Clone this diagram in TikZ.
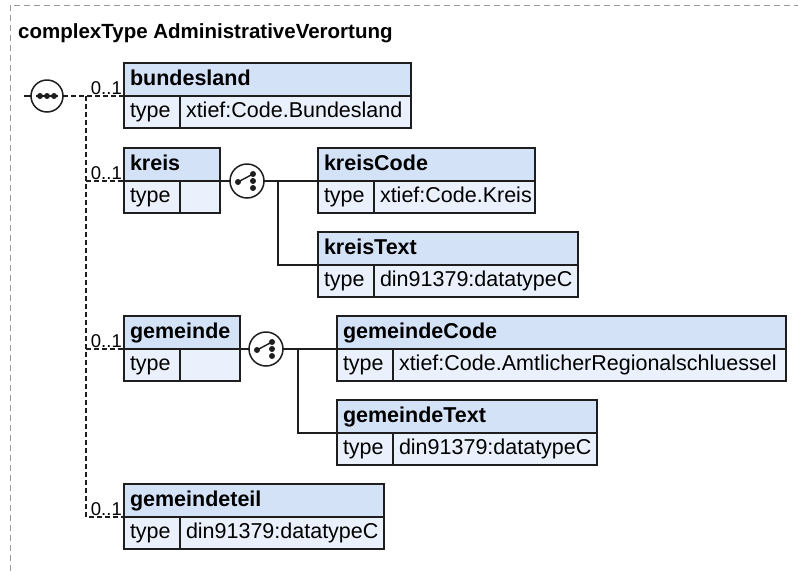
\documentclass[tikz,border=0pt]{standalone}
\usepackage{fontspec}
\setmainfont{Liberation Sans}
\usepackage{tikz}
\usetikzlibrary{positioning}
\usepackage{xcolor}
\definecolor{xsdhead}{HTML}{D4E2F8}
\definecolor{xsdrow}{HTML}{EAF1FC}
\definecolor{xsdline}{HTML}{1E1E1E}
\definecolor{xsdframe}{HTML}{9A9A9A}

\begin{document}
\begin{tikzpicture}[
    x=1pt, y=-1pt,
    hdr/.style={rectangle, draw=xsdline, fill=xsdhead, line width=1.5pt,
                outer sep=0pt, inner xsep=6pt, inner ysep=0pt,
                minimum height=33pt, text width=#1, align=left,
                text height=15pt, text depth=4pt, anchor=north west,
                font=\fontsize{21.5}{24}\selectfont\bfseries},
    cell/.style={rectangle, draw=xsdline, fill=xsdrow, line width=1.5pt,
                outer sep=0pt, inner xsep=6pt, inner ysep=0pt,
                minimum height=32pt, text width=#1, align=left,
                text height=15pt, text depth=4pt, anchor=north west,
                font=\fontsize{21.5}{24}\selectfont},
    cell/.default=44pt,
    occ/.style={inner sep=1pt, font=\fontsize{18.5}{20}\selectfont},
    conn/.style={line width=1.5pt, draw=xsdline},
    seqline/.style={conn, dash pattern=on 5pt off 3pt},
    frame/.style={line width=1pt, draw=xsdframe, dash pattern=on 6pt off 4pt},
    seqsym/.style={circle, draw=xsdline, fill=white, line width=1.5pt,
                minimum size=32pt, inner sep=0pt, outer sep=0pt,
                path picture={
                  \draw[line width=1.3pt, xsdline]
                    ([xshift=-11pt]path picture bounding box.center) --
                    ([xshift=11pt]path picture bounding box.center);
                  \foreach \dx in {-7,0,7}
                    \fill[xsdline] ([xshift=\dx pt]path picture bounding box.center) circle (3pt);
                }},
    choicesym/.style={circle, draw=xsdline, fill=white, line width=1.5pt,
                minimum size=34pt, inner sep=0pt, outer sep=0pt,
                path picture={
                  \draw[line width=1.4pt, xsdline]
                    ([xshift=-9pt, yshift=-1pt]path picture bounding box.center) --
                    ([xshift=6pt, yshift=7pt]path picture bounding box.center);
                  \fill[xsdline] ([xshift=-9pt, yshift=-1pt]path picture bounding box.center) circle (3pt);
                  \foreach \dy in {7,0,-7}
                    \fill[xsdline] ([xshift=6pt, yshift=\dy pt]path picture bounding box.center) circle (3pt);
                }}
]
\useasboundingbox (0,0) rectangle (798,571);

% outer frame and title
\draw[frame] (10,571) -- (10,5) -- (798,5);
\node[anchor=base west, inner sep=0pt, font=\fontsize{20.5}{24}\selectfont\bfseries]
    (title) at (18,38) {complexType AdministrativeVerortung};

% sequence
\coordinate (seqin) at (24,96);
\node[seqsym] (seq) at (47,96) {};
\coordinate (seqfork) at (86,96);

% elements
\node[hdr=275pt] (bund) at (124,63) {bundesland};
\node[cell, below right=0pt and 0pt of bund.south west] (bund-t) {type};
\node[cell=219pt, right=0pt of bund-t] (bund-v) {xtief:Code.Bundesland};

\node[hdr=84pt] (kreis) at (124,148) {kreis};
\node[cell, below right=0pt and 0pt of kreis.south west] (kreis-t) {type};
\node[cell=28pt, right=0pt of kreis-t] (kreis-v) {};

\node[hdr=104pt] (gem) at (124,316) {gemeinde};
\node[cell, below right=0pt and 0pt of gem.south west] (gem-t) {type};
\node[cell=48pt, right=0pt of gem-t] (gem-v) {};

\node[hdr=248pt] (teil) at (124,484) {gemeindeteil};
\node[cell, below right=0pt and 0pt of teil.south west] (teil-t) {type};
\node[cell=192pt, right=0pt of teil-t] (teil-v) {din91379:datatypeC};

% choice of kreis
\node[choicesym] (kch) at (247,181) {};
\coordinate (kfork) at (278,181);
\node[hdr=205pt] (kcode) at (318,148) {kreisCode};
\node[cell, below right=0pt and 0pt of kcode.south west] (kcode-t) {type};
\node[cell=149pt, right=0pt of kcode-t] (kcode-v) {xtief:Code.Kreis};
\node[hdr=248pt] (ktext) at (318,232) {kreisText};
\node[cell, below right=0pt and 0pt of ktext.south west] (ktext-t) {type};
\node[cell=192pt, right=0pt of ktext-t] (ktext-v) {din91379:datatypeC};

% choice of gemeinde
\node[choicesym] (gch) at (266,349) {};
\coordinate (gfork) at (298,349);
\node[hdr=437pt] (gcode) at (337,316) {gemeindeCode};
\node[cell, below right=0pt and 0pt of gcode.south west] (gcode-t) {type};
\node[cell=381pt, right=0pt of gcode-t] (gcode-v) {xtief:Code.AmtlicherRegionalschluessel};
\node[hdr=248pt] (gtext) at (337,400) {gemeindeText};
\node[cell, below right=0pt and 0pt of gtext.south west] (gtext-t) {type};
\node[cell=192pt, right=0pt of gtext-t] (gtext-v) {din91379:datatypeC};

% connectors
\draw[conn] (seqin) -- (seq);
\draw[seqline] (seq) -- (bund.south west);
\draw[seqline] (seqfork) |- (teil.south west);
\draw[seqline] (seqfork |- kreis.south west) -- (kreis.south west);
\draw[seqline] (seqfork |- gem.south west) -- (gem.south west);

\draw[conn] (kreis.south east) -- (kch);
\draw[conn] (kch) -- (kcode.south west);
\draw[conn] (kfork) |- (ktext.south west);

\draw[conn] (gem.south east) -- (gch);
\draw[conn] (gch) -- (gcode.south west);
\draw[conn] (gfork) |- (gtext.south west);

% occurrences
\node[occ, above left=0pt and 1pt of bund.south west] (bund-occ) {0..1};
\node[occ, above left=0pt and 1pt of kreis.south west] (kreis-occ) {0..1};
\node[occ, above left=0pt and 1pt of gem.south west] (gem-occ) {0..1};
\node[occ, above left=0pt and 1pt of teil.south west] (teil-occ) {0..1};
\end{tikzpicture}
\end{document}
